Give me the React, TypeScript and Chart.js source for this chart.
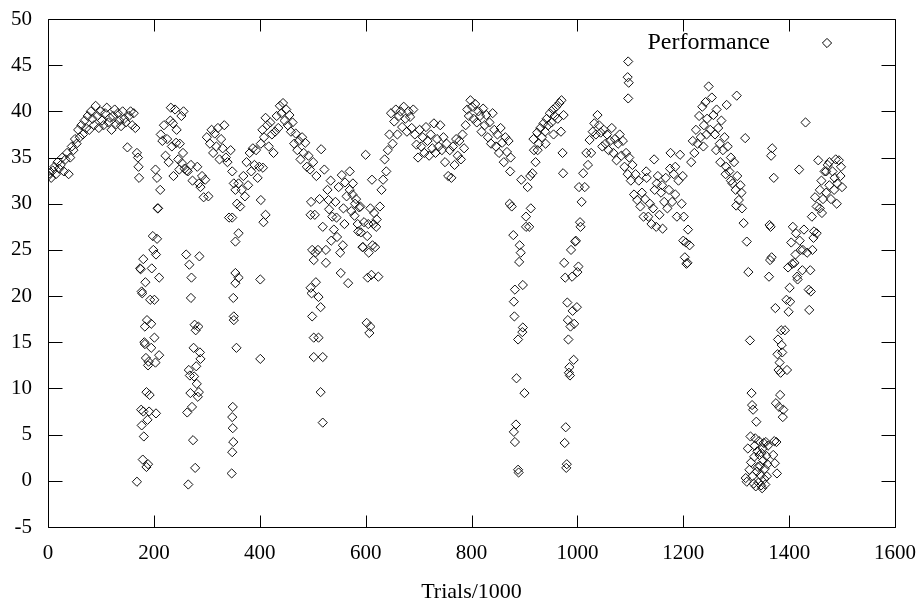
import { useEffect, useRef } from 'react';
import { Chart, registerables } from 'chart.js';

Chart.register(...registerables);

// Performance sampled every 3 thousand trials, starting at trial 0
const TRIAL_STEP = 3;
const perfMain: number[] = [
  // 0
  33, 33.3, 32.8, 33.6, 34, 33.2, 34.5, 33.8, 34.2, 35,
  // 30
  33.5, 34.8, 35.5, 33.2, 35, 36.2, 35.8, 37, 36.5, 38,
  // 60
  37.2, 38.5, 37.5, 39, 38.2, 39.5, 38, 40, 39.2, 38.5,
  // 90
  40.6, 39.5, 38.2, 40, 39, 38.5, 39.8, 40.4, 38.8, 39.3,
  // 120
  38, 39.5, 40.2, 38.6, 39.8, 39, 38.4, 40, 39.2, 38.8,
  // 150
  36.1, 39.5, 40, 38.5, 39.8, 38.2, 35.5, 34, 23, 20.5,
  // 180
  7.5, 14.8, 1.5, 12.5, 9.3, 17, 26.5, 19.6, 24.5, 29.5,
  // 210
  13.6, 37.5, 36.8, 38.5, 35.2, 37, 34.5, 39, 36.2, 33,
  // 240
  40.2, 38, 34.8, 36.5, 39.5, 35.5, 33.8, 24.5, 33.5, 23.4,
  // 270
  19.8, 32.5, 11.3, 16.3, 34, 9.6, 13.2, 33, 30.7, 32.6,
  // 300
  37.2, 30.8, 36.5, 38, 35.5, 37.6, 36.2, 38.2, 34.8, 37,
  // 330
  36, 38.5, 35, 34.5, 28.5, 35.8, 33.5, 32.2, 31.5, 30,
  // 360
  32.2, 29.7, 31.5, 33, 30.8, 34.5, 32, 35.5, 33.5, 36,
  // 390
  34.2, 35.8, 32.8, 34, 36.5, 38, 37.2, 39.3, 38.5, 36.2,
  // 420
  38.8, 37.5, 35.5, 37.8, 39.5, 38.2, 40.6, 39.8, 40.9, 39,
  // 450
  40.2, 38.5, 39.6, 37.8, 38.8, 36.5, 37.6, 35.8, 36.8, 34.8,
  // 480
  37.2, 35.5, 36.6, 34, 35.2, 33.7, 20.3, 34.5, 28.8, 33,
  // 510
  25, 30.5, 35.9, 27.5, 33.7, 25, 31.5, 29.4, 32.5, 28.6,
  // 540
  27.2, 30.2, 26.4, 31.8, 24.7, 33.1, 29.5, 32.3, 30.8, 21.4,
  // 570
  31.5, 29.2, 32.2, 28.7, 30.5, 27.8, 29.6, 26.9, 25.3, 28,
  // 600
  35.3, 26.5, 24.7, 29.5, 32.6, 27.8, 25.3, 28.3, 22.1, 29.7,
  // 630
  31.5, 32.6, 34.8, 33.5, 35.8, 37.5, 39.8, 36.5, 38.9, 40.2,
  // 660
  37.5, 39.5, 40, 38.3, 40.5, 39.2, 37.8, 40, 39.4, 38.2,
  // 690
  40.2, 37.5, 36.4, 35, 38, 36.2, 37.2, 35.5, 38.3, 36.8,
  // 720
  35.2, 37.5, 36, 38.7, 35.5, 37, 36.2, 38.5, 35.8, 37.2,
  // 750
  34.5, 36.5, 33, 35.8, 32.8, 36.2, 34.2, 37, 35.2, 36.8,
  // 780
  34.8, 37.5, 36, 38.5, 40.2, 39.5, 41.2, 40.5, 39.2, 40.8,
  // 810
  38.8, 40, 39.5, 37.8, 40.3, 38.5, 39.6, 37.2, 38.8, 36.5,
  // 840
  39.8, 38, 36.2, 37.5, 35.5, 38.2, 36.6, 34.5, 37.2, 35.6,
  // 870
  36.8, 33.5, 29.7, 26.6, 20.7, 11.1, 15.3, 25.5, 32.6, 21.2,
  // 900
  9.5, 28.6, 31.8, 27.5, 29.5, 33.3, 35.8, 34.5, 37.7, 36.5,
  // 930
  38.2, 37.2, 38.7, 37.8, 39.2, 38.5, 39.8, 38.8, 40.2, 39.5,
  // 960
  40.5, 39.2, 40.9, 37.8, 35.5, 23.6, 5.8, 19.3, 11.7, 16.7,
  // 990
  22.1, 13.1, 25.9, 18.8, 23.2, 28, 30.2, 33.3, 31.8, 35.5,
  // 1020
  34.2, 36.9, 35.5, 37.8, 38.7, 37.5, 39.6, 38.5, 37.7, 36.2,
  // 1050
  38, 36.5, 37.5, 35.8, 36.8, 38.2, 35.5, 37, 34.7, 36.5,
  // 1080
  37.5, 35.2, 36.8, 34, 35.5, 33.2, 35, 32.5, 34.2, 31,
  // 1110
  33.2, 30.4, 32.5, 29.7, 31.2, 28.6, 30.5, 32.8, 28.6, 30,
  // 1140
  27.8, 29.5, 31.5, 27.5, 33, 28.8, 31.2, 27.3, 30.2, 32.8,
  // 1170
  29.5, 31.5, 35.5, 30.2, 33.2, 31, 28.6, 32.5, 35.3, 30,
  // 1200
  26, 24.2, 23.5, 27.2, 25.5, 34.5, 36.8, 35.5, 38, 36.5,
  // 1230
  39.5, 37.2, 40.5, 38.5, 41, 39.2, 42.7, 38, 41.5, 39.6,
  // 1260
  37.5, 40.2, 38.2, 36.5, 39, 35.8, 37.2, 34, 36.2, 33.5,
  // 1290
  35, 32.2, 34.5, 31.5, 33, 30.4, 32, 29.5, 27.9, 37.1,
  // 1320
  25.9, 22.6, 15.2, 9.5, 7.7, 3.8, 6.4, 1.5, 2.8, -0.5,
  // 1350
  3.5, 0.2, 4.2, 1.8, 22.1, 27.5, 36, 32.8, 18.7, 0.8,
  // 1380
  12, 9.3, 14.7, 7.7, 16.3, 19.6, 23.1, 20.9, 25.8, 27.5,
  // 1410
  23.6, 26.8, 21.8, 33.7, 25, 22.8, 27.2, 38.8, 24.7, 20.7,
  // 1440
  22.8, 28.6, 26.3, 30.7, 26.8, 34.7, 29.5, 32.5, 30.5, 33.5,
  // 1470
  31.2, 34.2, 32, 30.5, 33.5, 31.5, 34.8, 32.2, 34.7, 33,
  // 1500
  31.8,
];

// Additional evaluations (mostly inside the collapses), trials/1000 and performance
const extraTrials: number[] = [
  168, 170, 172, 175, 176, 177, 178, 179, 180, 181, 182, 183, 184, 185, 186, 187, 188, 189, 190, 191,
  193, 195, 196, 199, 201, 203, 204, 206, 208, 210, 212, 203, 206,
  232, 236, 242, 248, 253, 256,
  262, 263, 265, 266, 268, 269, 270, 271, 272, 274, 275, 277, 278, 280, 281, 283, 284, 285, 286, 287, 288,
  347, 348, 349, 348, 349, 350, 348, 350, 351, 351, 354, 354, 354, 356, 360, 360,
  401, 401, 402, 411, 407, 406,
  496, 499, 502, 496, 506, 511, 515, 499, 502, 511, 502, 519, 515, 519, 505, 497,
  525, 530, 535, 545, 553, 557, 560, 570, 575, 580, 586, 590,
  595, 602, 604, 607, 609, 611, 605, 613, 616, 620,
  880, 881, 884, 880, 882, 888, 889, 893, 890, 897, 896, 874, 872, 903, 911,
  970, 973, 974, 917, 925, 940, 955,
  976, 979, 980, 977, 982, 983, 985, 986, 988, 991, 994, 997, 1000, 1003, 1006,
  1096, 1095, 1097, 1096,
  1130, 1145, 1150, 1160, 1175, 1185, 1199, 1205, 1201, 1208,
  1238, 1244, 1262, 1270, 1280, 1290, 1300, 1310, 1282, 1301,
  1318, 1320, 1322, 1325, 1327, 1328, 1330, 1331, 1333, 1334, 1336, 1337, 1339, 1340, 1342, 1343, 1345, 1346,
  1348, 1349, 1351, 1352, 1354, 1355, 1357, 1358, 1360, 1363, 1364, 1366, 1367, 1370, 1372, 1373, 1375, 1376,
  1378, 1379, 1381, 1382, 1384, 1385, 1387, 1388,
  1396, 1399, 1402, 1406, 1412, 1415, 1420, 1426, 1438, 1441, 1444, 1447, 1452, 1458, 1462, 1470, 1476, 1486,
  1490, 1498,
];
const extraPerf: number[] = [
  -0.1, 35, 32.8, 22.9, 7.7, 6, 20.3, 2.3, 24, 4.8, 15, 16.7, 21.5, 13.3, 9.6, 17.4, 6.6, 1.8, 12.9, 7.5,
  19.6, 14.4, 23, 25, 15.5, 12.8, 7.3, 26.2, 29.5, 22, 31.5, 33.7, 32.8,
  40.4, 38.7, 36.6, 33.7, 34.4, 40,
  33.6, 7.4, -0.4, 12, 11.4, 9.5, 34.2, 22, 8, 4.4, 14.4, 16.9, 1.4, 12.4, 10.5, 9.1, 16.7, 32.2, 24.3, 13.9, 31.8,
  0.8, 3.1, 8, 6.9, 5.7, 4.2, 28.5, 19.8, 17.8, 17.4, 25.9, 22.5, 21.4, 14.4, 26.8, 22,
  21.8, 13.2, 30.4, 28.8, 28, 33.9,
  28.8, 25, 23.9, 20.9, 21.5, 19.9, 18.8, 17.8, 15.5, 15.5, 13.4, 13.4, 9.6, 6.3, 24.7, 30.2,
  23.6, 30.4, 26, 28.5, 22.5, 25.5, 27.8, 33.5, 31, 30, 27, 29.7,
  25.3, 17.1, 22, 16, 16.7, 22.3, 27.8, 25.5, 29, 27.5,
  19.4, 17.8, 6.1, 5.3, 4.2, 1.2, 0.9, 24.7, 23.7, 16.6, 16.1, 35, 30, 27.5, 33,
  41.2, 33.3, 39.6, 37, 35.8, 36.5, 37.5,
  4.1, 1.4, 1.8, 22, 17.4, 15.3, 12.3, 11.4, 25, 18.4, 17, 26, 22.6, 31.8, 27.5,
  45.4, 43.7, 43.1, 41.4,
  33.5, 34.8, 32.2, 32, 33.8, 34, 33, 25.8, 28.6, 23.6,
  36.2, 37.5, 35.8, 34.5, 33.2, 32.5, 29.8, 31.2, 40.7, 41.7,
  0.3, -0.1, 3.5, 1.2, 4.8, 2, 8.2, 0.5, -0.3, 2.6, 4.6, -0.6, 1, 3.2, -0.2, 4.3, 1.6, 0.6,
  3, -0.8, 2.2, 4.1, 1.3, -0.4, 2.7, 0.5, 3.8, 27.7, 23.9, 35.2, 24.2, 2.8, 4.3, 1.9, 8.4, 4.2,
  13.7, 15.3, 8, 12.8, 11.7, 16.3, 13.9, 6.9,
  12, 18.3, 19.4, 23.5, 24.5, 22.1, 26, 25, 18.5, 20.5, 25, 27, 29.7, 31.5, 29, 33.5, 34.5, 32.8,
  30, 34,
];

const SERIES_LABEL = 'Performance';
const X_TITLE = 'Trials/1000';
const X_MIN = 0;
const X_MAX = 1600;
const X_STEP = 200;
const Y_MIN = -5;
const Y_MAX = 50;
const Y_STEP = 5;

const FONT = "'Liberation Serif', 'Times New Roman', serif";

const framePlugin = {
  id: 'gnuFrame',
  afterDatasetsDraw(chart: any) {
    const { ctx, chartArea, scales } = chart;
    const l = Math.round(chartArea.left) + 0.5;
    const r = Math.round(chartArea.right) + 0.5;
    const t = Math.round(chartArea.top) + 0.5;
    const b = Math.round(chartArea.bottom) + 0.5;
    ctx.save();
    ctx.strokeStyle = '#000';
    ctx.lineWidth = 1;
    ctx.beginPath();
    ctx.rect(l, t, r - l, b - t);
    for (const tk of scales.x.ticks) {
      const px = Math.round(scales.x.getPixelForValue(tk.value)) + 0.5;
      ctx.moveTo(px, b);
      ctx.lineTo(px, b - 12);
      ctx.moveTo(px, t);
      ctx.lineTo(px, t + 12);
    }
    for (const tk of scales.y.ticks) {
      const py = Math.round(scales.y.getPixelForValue(tk.value)) + 0.5;
      ctx.moveTo(l, py);
      ctx.lineTo(l + 14, py);
      ctx.moveTo(r, py);
      ctx.lineTo(r - 14, py);
    }
    ctx.stroke();

    // key (text left of sample, gnuplot style)
    const ky = chartArea.top + 24;
    const sx = chartArea.right - 68;
    ctx.font = `24px ${FONT}`;
    ctx.fillStyle = '#000';
    ctx.textAlign = 'right';
    ctx.textBaseline = 'middle';
    ctx.fillText(chart.data.datasets[0].label, chartArea.right - 125, ky);
    ctx.beginPath();
    ctx.moveTo(sx, ky - 4.6);
    ctx.lineTo(sx + 4.6, ky);
    ctx.lineTo(sx, ky + 4.6);
    ctx.lineTo(sx - 4.6, ky);
    ctx.closePath();
    ctx.stroke();
    ctx.restore();
  },
};

export default function App() {
  const ref = useRef<HTMLCanvasElement | null>(null);

  useEffect(() => {
    document.body.style.margin = '0';
    const canvas = ref.current;
    if (!canvas) return;
    const points = perfMain
      .map((y, i) => ({ x: i * TRIAL_STEP, y }))
      .concat(extraTrials.map((x, i) => ({ x, y: extraPerf[i] })));

    const chart = new Chart(canvas, {
      type: 'scatter',
      data: {
        datasets: [
          {
            label: SERIES_LABEL,
            data: points,
            pointStyle: 'rectRot',
            pointRadius: 4.6,
            pointHoverRadius: 4.6,
            pointBorderWidth: 1,
            borderColor: '#111',
            backgroundColor: 'rgba(0,0,0,0)',
            showLine: false,
          },
        ],
      },
      options: {
        animation: false,
        responsive: false,
        devicePixelRatio: 1,
        events: [],
        layout: { padding: { left: 0, right: 25, top: 19, bottom: 0 } },
        plugins: { legend: { display: false }, tooltip: { enabled: false } },
        scales: {
          x: {
            type: 'linear',
            min: X_MIN,
            max: X_MAX,
            grid: { display: false, drawTicks: true, tickLength: 14 },
            border: { display: false },
            ticks: {
              stepSize: X_STEP,
              padding: 0,
              color: '#000',
              font: { family: FONT, size: 21 },
              callback: (v: any) => String(v),
              maxRotation: 0,
            },
            title: {
              display: true,
              text: X_TITLE,
              color: '#000',
              font: { family: FONT, size: 22 },
              padding: { top: 0, bottom: -4 },
            },
            afterFit: (s: any) => {
              s.height = 74;
            },
          },
          y: {
            type: 'linear',
            min: Y_MIN,
            max: Y_MAX,
            grid: { display: false, drawTicks: true, tickLength: 16 },
            border: { display: false },
            ticks: {
              stepSize: Y_STEP,
              padding: 0,
              color: '#000',
              font: { family: FONT, size: 21 },
              callback: (v: any) => String(v),
            },
            afterFit: (s: any) => {
              s.width = 48;
            },
          },
        },
      },
      plugins: [framePlugin],
    });
    return () => chart.destroy();
  }, []);

  return <canvas ref={ref} width={920} height={601} style={{ display: 'block' }} />;
}
